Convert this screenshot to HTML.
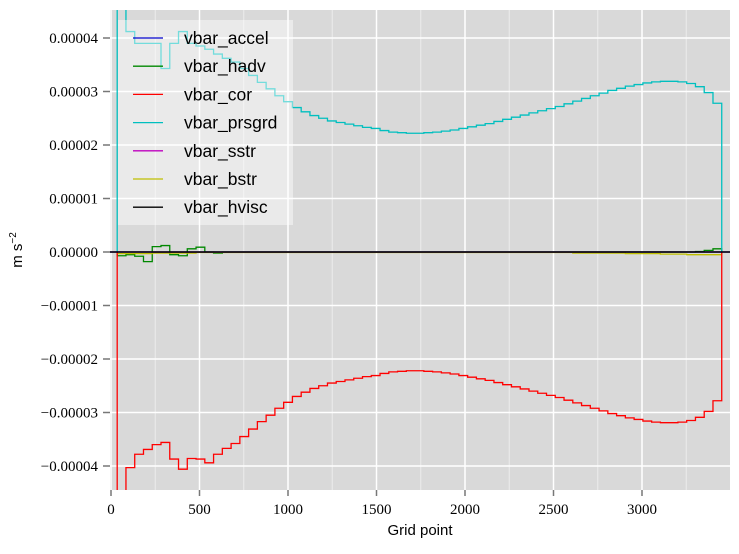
<!DOCTYPE html>
<html><head><meta charset="utf-8"><style>
body{margin:0;background:#fff;}
svg text{font-family:"Liberation Serif",serif;}
</style></head><body>
<svg id="chart" width="739" height="549" xmlns="http://www.w3.org/2000/svg">
<rect x="110" y="10" width="620" height="480" fill="#d9d9d9"/>
<g id="grid"></g>
<g id="series"></g>
<g id="axes"></g>
<g id="legend"></g>
<text x="420" y="535" text-anchor="middle" font-size="15" style="font-family:'Liberation Sans',sans-serif">Grid point</text>
<text transform="translate(22,250) rotate(-90)" text-anchor="middle" font-size="15" style="font-family:'Liberation Sans',sans-serif">m s<tspan font-size="10" dy="-6">−2</tspan></text>
</svg>
<script>
const binStart = 35;
const binWidth = 49.5;
const xTicks = [0,500,1000,1500,2000,2500,3000];
const yTicks = [4e-5,3e-5,2e-5,1e-5,0,-1e-5,-2e-5,-3e-5,-4e-5];
const yTickLabels = ["0.00004","0.00003","0.00002","0.00001","0.00000","−0.00001","−0.00002","−0.00003","−0.00004"];
// values in units of 1e-5 m s^-2
const cor = [-4.5,-4.03,-3.78,-3.69,-3.6,-3.56,-3.87,-4.06,-3.86,-3.87,-3.94,-3.78,-3.67,-3.58,-3.45,-3.31,-3.17,-3.05,-2.92,-2.81,-2.70,-2.62,-2.55,-2.50,-2.45,-2.42,-2.39,-2.36,-2.33,-2.31,-2.27,-2.24,-2.23,-2.22,-2.22,-2.23,-2.24,-2.26,-2.28,-2.31,-2.34,-2.37,-2.40,-2.44,-2.48,-2.52,-2.56,-2.60,-2.64,-2.68,-2.72,-2.77,-2.82,-2.87,-2.92,-2.97,-3.02,-3.06,-3.10,-3.13,-3.16,-3.18,-3.19,-3.19,-3.18,-3.15,-3.09,-2.98,-2.78];
const prsgrd = [4.8,4.12,3.90,3.90,3.90,3.43,3.90,4.12,3.90,3.85,3.79,3.70,3.62,3.55,3.43,3.30,3.17,3.05,2.92,2.81,2.70,2.62,2.55,2.50,2.45,2.42,2.39,2.36,2.33,2.31,2.27,2.24,2.23,2.22,2.22,2.23,2.24,2.26,2.28,2.31,2.34,2.37,2.40,2.44,2.48,2.52,2.56,2.60,2.64,2.68,2.72,2.77,2.82,2.87,2.92,2.97,3.02,3.06,3.10,3.13,3.16,3.18,3.19,3.19,3.18,3.15,3.09,2.98,2.78];
const hadv = [-0.07,-0.05,-0.08,-0.18,0.10,0.12,-0.05,-0.07,0.06,0.09,0.0,-0.02,0,0,0,0,0,0,0,0,0,0,0,0,0,0,0,0,0,0,0,0,0,0,0,0,0,0,0,0,0,0,0,0,0,0,0,0,0,0,0,0,0,0,0,0,0,0,0,0,0,0,0,0,0,0,0.01,0.03,0.06];
const bstr = [-0.03,-0.03,-0.03,-0.03,-0.02,-0.02,-0.02,-0.02,-0.02,-0.01,-0.01,-0.01,-0.01,-0.01,-0.01,-0.01,-0.01,-0.01,-0.01,-0.01,-0.01,-0.01,-0.01,-0.01,-0.01,-0.01,-0.01,-0.01,-0.01,-0.01,-0.01,-0.01,-0.01,-0.01,-0.01,-0.01,-0.01,-0.01,-0.01,-0.01,-0.01,-0.01,-0.01,-0.01,-0.01,-0.01,-0.01,-0.01,-0.01,-0.01,-0.01,-0.01,-0.02,-0.02,-0.02,-0.02,-0.02,-0.02,-0.03,-0.03,-0.03,-0.03,-0.04,-0.04,-0.04,-0.05,-0.05,-0.05,-0.05];
const zeros = new Array(69).fill(0);
const seriesNames = ["vbar_accel","vbar_hadv","vbar_cor","vbar_prsgrd","vbar_sstr","vbar_bstr","vbar_hvisc"];
const seriesColors = ["#0000cc","#008800","#ff0000","#00bfbf","#bf00bf","#bfbf00","#000000"];
const seriesData = [zeros,hadv,cor,prsgrd,zeros,bstr,zeros];

const NS="http://www.w3.org/2000/svg";
const X0=110,X1=730,Y0=10,Y1=490;
function xs(g){return 111+g*0.177;}
function ys(v){return 252-v*5.35e6;}
function mk(t,a,p){const e=document.createElementNS(NS,t);for(const k in a)e.setAttribute(k,a[k]);p.appendChild(e);return e;}
const grid=document.getElementById('grid'),axes=document.getElementById('axes'),ser=document.getElementById('series'),leg=document.getElementById('legend');
for(let g=250;g<3500;g+=500){const l=mk('line',{x1:xs(g),x2:xs(g),y1:Y0,y2:Y1,stroke:'#ececec','stroke-width':1},grid);

}
xTicks.forEach(t=>{const l=mk('line',{x1:xs(t),x2:xs(t),y1:Y0,y2:Y1,stroke:'#fff','stroke-width':1.5},grid);


const tk=mk('line',{x1:xs(t),x2:xs(t),y1:Y1,y2:Y1+6,stroke:'#777','stroke-width':1.5},axes);


const tx=mk('text',{x:xs(t),y:514,'text-anchor':'middle','font-size':15},axes);tx.textContent=t;

});
yTicks.forEach((t,i)=>{const l=mk('line',{x1:X0,x2:X1,y1:ys(t),y2:ys(t),stroke:'#fff','stroke-width':1.5},grid);


const tk=mk('line',{x1:X0-7,x2:X0,y1:ys(t),y2:ys(t),stroke:'#777','stroke-width':1.5},axes);


const tx=mk('text',{x:98,y:ys(t)+5,'text-anchor':'end','font-size':15},axes);tx.textContent=yTickLabels[i];

});
const cp=mk('clipPath',{id:'clip'},document.getElementById('chart'));
mk('rect',{x:X0,y:Y0,width:X1-X0,height:Y1-Y0},cp);
ser.setAttribute('clip-path','url(#clip)');
const order=[1,5,2,3,4,0,6];
order.forEach(si=>{const d=seriesData[si];let p='M'+xs(binStart)+','+ys(0);
d.forEach((v,i)=>{const xa=xs(binStart+binWidth*i),xb=xs(binStart+binWidth*(i+1));p+=' L'+xa+','+ys(v*1e-5)+' L'+xb+','+ys(v*1e-5);});
p+=' L'+xs(binStart+binWidth*d.length)+','+ys(0);
if(si===0||si===4||si===6)p='M'+X0+','+ys(0)+' L'+X1+','+ys(0);
const pa=mk('path',{d:p,fill:'none',stroke:seriesColors[si],'stroke-width':si===6?1.5:1.3},ser);

});
const lb=mk('rect',{x:118,y:20,width:175,height:205,fill:'rgba(255,255,255,0.45)'},leg);


seriesNames.forEach((n,i)=>{const y=38+i*28.2;
const g=mk('g',{},leg);


mk('line',{x1:133,x2:163,y1:y,y2:y,stroke:seriesColors[i],'stroke-width':1.3},g);
const t=mk('text',{x:184,y:y+6,'font-size':17.5,style:"font-family:'Liberation Sans',sans-serif"},g);t.textContent=n;});
</script>
</body></html>
